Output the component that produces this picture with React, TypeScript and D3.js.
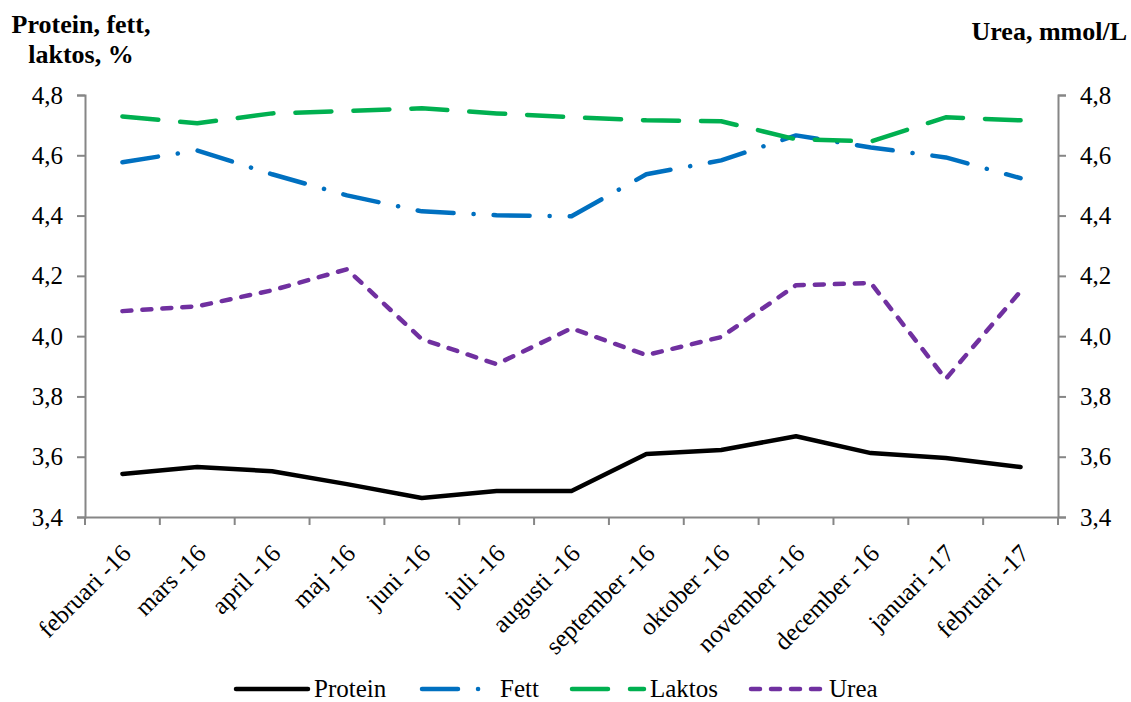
import React, { useEffect, useRef } from 'react';
import * as d3 from 'd3';

const months = [
  'februari -16', 'mars -16', 'april -16', 'maj -16', 'juni -16', 'juli -16',
  'augusti -16', 'september -16', 'oktober -16', 'november -16', 'december -16',
  'januari -17', 'februari -17',
];

const protein = [3.543, 3.566, 3.552, 3.509, 3.463, 3.486, 3.486, 3.609, 3.622, 3.668, 3.612, 3.596, 3.566];
const fett = [4.577, 4.616, 4.537, 4.467, 4.414, 4.401, 4.398, 4.537, 4.583, 4.666, 4.626, 4.593, 4.524];
const laktos = [4.729, 4.706, 4.739, 4.747, 4.756, 4.739, 4.726, 4.716, 4.713, 4.653, 4.646, 4.726, 4.716];
const urea = [4.083, 4.099, 4.152, 4.222, 3.99, 3.907, 4.026, 3.937, 3.997, 4.169, 4.176, 3.858, 4.149];

const yTicks = [3.4, 3.6, 3.8, 4.0, 4.2, 4.4, 4.6, 4.8];

const series = [
  { name: 'Protein', values: protein, color: '#000000', dash: null },
  { name: 'Fett', values: fett, color: '#0070C0', dash: '36 20 0.1 20' },
  { name: 'Laktos', values: laktos, color: '#00B050', dash: '36 22' },
  { name: 'Urea', values: urea, color: '#7030A0', dash: '9 11' },
];

const W = 1131, H = 702;
const FONT = '"Liberation Serif", "Times New Roman", serif';

export default function App() {
  const ref = useRef<SVGSVGElement>(null);

  useEffect(() => {
    const svg = d3.select(ref.current);
    svg.selectAll('*').remove();

    const left = 85, right = 1058, top = 95, bottom = 517;

    const x = d3.scaleBand<string>().domain(months).range([left, right]);
    const y = d3.scaleLinear().domain([3.4, 4.8]).range([bottom, top]);
    const yR = d3.scaleLinear().domain([3.4, 4.8]).range([bottom, top]);
    const fmt = (v: number) => v.toFixed(1).replace('.', ',');

    // left axis
    const gL = svg.append('g').attr('transform', `translate(${left},0)`)
      .call(d3.axisLeft(y).tickValues(yTicks).tickSize(8).tickPadding(14).tickFormat(d => fmt(+d)));
    // right axis
    const gR = svg.append('g').attr('transform', `translate(${right},0)`)
      .call(d3.axisRight(yR).tickValues(yTicks).tickSize(8).tickPadding(14).tickFormat(d => fmt(+d)));
    // x axis (ticks at band boundaries)
    const gX = svg.append('g').attr('transform', `translate(0,${bottom})`)
      .call(d3.axisBottom(x).tickSize(0).tickFormat(() => ''));
    gX.selectAll('.tick').remove();
    const edges = d3.range(months.length + 1).map(i => left + i * x.step());
    gX.selectAll('line.edge').data(edges).enter().append('line')
      .attr('class', 'edge')
      .attr('x1', d => d).attr('x2', d => d)
      .attr('y1', 0).attr('y2', 8)
      .attr('stroke', '#868686').attr('stroke-width', 2);

    [gL, gR, gX].forEach(g => {
      g.select('.domain').attr('stroke', '#868686').attr('stroke-width', 2);
      g.selectAll('.tick line').attr('stroke', '#868686').attr('stroke-width', 2);
      g.selectAll('.tick text').attr('fill', '#000').style('font-family', FONT).style('font-size', '25px');
    });

    // x labels
    svg.append('g').selectAll('text').data(months).enter().append('text')
      .attr('transform', d => `translate(${(x(d) as number) + x.bandwidth() / 2 + 10},${bottom + 38}) rotate(-45)`)
      .attr('text-anchor', 'end')
      .style('font-family', FONT).style('font-size', '25px')
      .text(d => d);

    // lines
    const line = d3.line<number>()
      .x((_, i) => (x(months[i]) as number) + x.bandwidth() / 2)
      .y(d => y(d));

    series.forEach(s => {
      svg.append('path')
        .datum(s.values)
        .attr('d', line)
        .attr('fill', 'none')
        .attr('stroke', s.color)
        .attr('stroke-width', 4.5)
        .attr('stroke-linecap', 'round')
        .attr('stroke-linejoin', 'round')
        .attr('stroke-dasharray', s.dash);
    });

    // axis titles
    const tl = svg.append('text').attr('text-anchor', 'middle')
      .style('font-family', FONT).style('font-size', '26px').style('font-weight', 'bold');
    tl.append('tspan').attr('x', 81).attr('y', 33).text('Protein, fett,');
    tl.append('tspan').attr('x', 81).attr('y', 63).text('laktos, %');
    svg.append('text').attr('text-anchor', 'end').attr('x', 1127).attr('y', 40)
      .style('font-family', FONT).style('font-size', '26px').style('font-weight', 'bold')
      .text('Urea, mmol/L');

    // legend
    const legendX = [236, 422, 572, 751];
    const ly = 689;
    series.forEach((s, i) => {
      const lx = legendX[i];
      svg.append('line')
        .attr('x1', lx).attr('x2', lx + 72).attr('y1', ly).attr('y2', ly)
        .attr('stroke', s.color).attr('stroke-width', 4.5)
        .attr('stroke-linecap', 'round')
        .attr('stroke-dasharray', s.dash);
      svg.append('text')
        .attr('x', lx + 78).attr('y', ly).attr('dy', '0.33em')
        .style('font-family', FONT).style('font-size', '25px')
        .text(s.name);
    });
  }, []);

  return (
    <svg ref={ref} width={W} height={H}
      style={{ position: 'absolute', left: 0, top: 0, background: '#fff' }} />
  );
}
